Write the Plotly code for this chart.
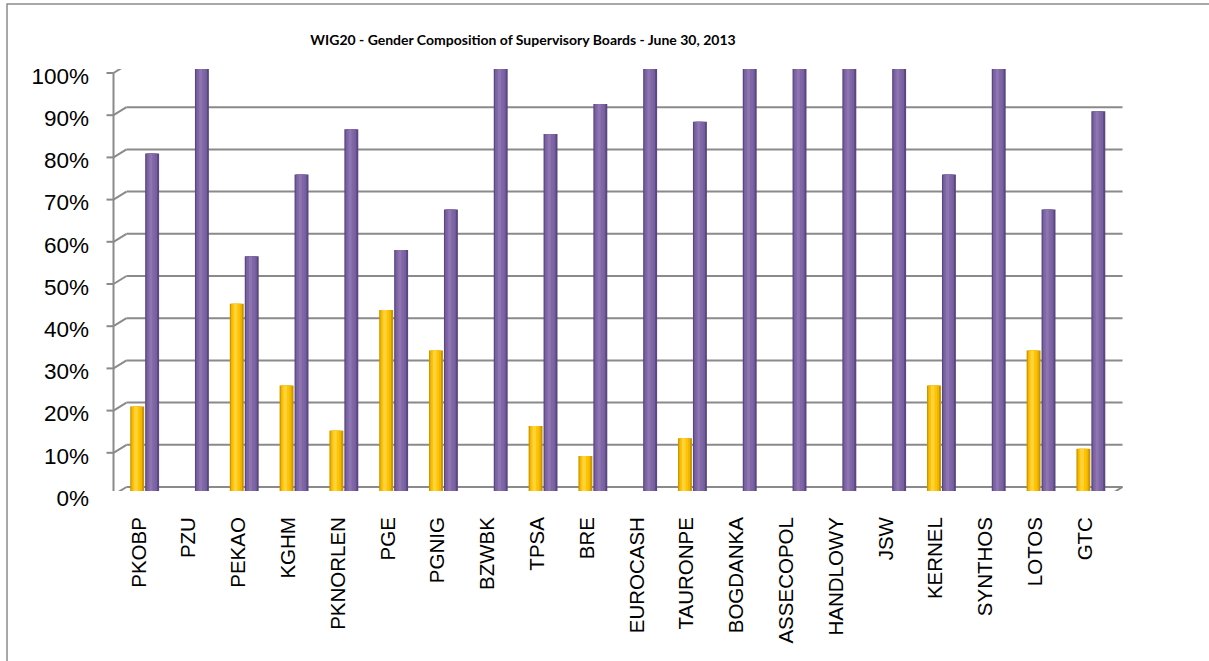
import plotly.graph_objects as go

companies = ["PKOBP", "PZU", "PEKAO", "KGHM", "PKNORLEN", "PGE", "PGNIG", "BZWBK",
             "TPSA", "BRE", "EUROCASH", "TAURONPE", "BOGDANKA", "ASSECOPOL",
             "HANDLOWY", "JSW", "KERNEL", "SYNTHOS", "LOTOS", "GTC"]
women_pct = [20.0, 0.0, 44.4, 25.0, 14.3, 42.9, 33.3, 0.0, 15.4, 8.3,
             0.0, 12.5, 0.0, 0.0, 0.0, 0.0, 25.0, 0.0, 33.3, 10.0]
men_pct = [80.0, 100.0, 55.6, 75.0, 85.7, 57.1, 66.7, 100.0, 84.6, 91.7,
           100.0, 87.5, 100.0, 100.0, 100.0, 100.0, 75.0, 100.0, 66.7, 90.0]
y_ticks = list(range(0, 101, 10))
y_tick_labels = [f"{v}%" for v in y_ticks]
title_text = "WIG20 - Gender Composition of Supervisory Boards - June 30, 2013"

W, H = 1209, 661
L, R, T, B = 120, 93, 69, 170
PW = W - L - R
PH = H - T - B
DX, DY = 6.5, 4  # half depth offset in pixels

fig = go.Figure()

def cyl(values, base_off, layers, name):
    for dx, w, col in layers:
        fig.add_trace(go.Bar(
            x=companies, y=values, name=name, showlegend=False,
            offset=base_off + dx, width=w,
            marker=dict(color=col, line=dict(width=0)),
            hoverinfo="x+y",
        ))

cyl(women_pct, -0.295,
    [(0.0, 0.28, "#C99700"), (0.025, 0.215, "#F2B600"), (0.05, 0.15, "#FFC400"), (0.08, 0.07, "#FFD33D")],
    "Women")
cyl(men_pct, 0.005,
    [(0.0, 0.28, "#5B4780"), (0.025, 0.215, "#7560A0"), (0.05, 0.15, "#8166A6"), (0.085, 0.06, "#8D75B1")],
    "Men")

grid_col = "#8A8A8A"
shapes = []
for v in y_ticks:
    shapes.append(dict(type="line", xref="paper", xsizemode="pixel", xanchor=0,
                       x0=DX, x1=PW + DX, yref="y", ysizemode="pixel", yanchor=v,
                       y0=DY, y1=DY, line=dict(color=grid_col, width=2), layer="below"))
    shapes.append(dict(type="line", xref="paper", xsizemode="pixel", xanchor=0,
                       x0=-DX, x1=DX, yref="y", ysizemode="pixel", yanchor=v,
                       y0=-DY, y1=DY, line=dict(color=grid_col, width=2), layer="below"))
    shapes.append(dict(type="line", xref="paper", xsizemode="pixel", xanchor=0,
                       x0=-DX, x1=-DX - 7, yref="y", ysizemode="pixel", yanchor=v,
                       y0=-DY, y1=-DY, line=dict(color=grid_col, width=2), layer="below"))
shapes.append(dict(type="line", xref="paper", xsizemode="pixel", xanchor=0,
                   x0=-DX, x1=-DX, yref="y", ysizemode="pixel", yanchor=0,
                   y0=-DY, y1=PH - DY, line=dict(color=grid_col, width=2), layer="below"))
shapes.append(dict(type="line", xref="paper", xsizemode="pixel", xanchor=0,
                   x0=-DX, x1=PW - DX, yref="y", ysizemode="pixel", yanchor=0,
                   y0=-DY, y1=-DY, line=dict(color=grid_col, width=2), layer="below"))
shapes.append(dict(type="line", xref="paper", xsizemode="pixel", xanchor=0,
                   x0=PW - DX, x1=PW + DX, yref="y", ysizemode="pixel", yanchor=0,
                   y0=-DY, y1=DY, line=dict(color=grid_col, width=2), layer="below"))
for k in range(len(companies) + 1):
    shapes.append(dict(type="line", xref="x", xsizemode="pixel", xanchor=k - 0.5,
                       x0=-DX, x1=-DX, yref="y", ysizemode="pixel", yanchor=0,
                       y0=-DY, y1=-DY - 8, line=dict(color=grid_col, width=2), layer="below"))
shapes.append(dict(type="rect", xref="paper", yref="paper",
                   x0=(7 - L) / PW, x1=(W + 30 - L) / PW,
                   y0=(H - B - (H + 30)) / PH, y1=(H - B - 4) / PH,
                   line=dict(color="#8C8C8C", width=1.5), fillcolor="rgba(0,0,0,0)", layer="below"))

fig.update_layout(
    width=W, height=H,
    margin=dict(l=L, r=R, t=T, b=B, pad=0),
    paper_bgcolor="white", plot_bgcolor="white",
    barmode="overlay",
    shapes=shapes,
    title=dict(text=title_text, x=523 / W, xanchor="center", y=1 - 40 / H, yanchor="middle",
               font=dict(family="Lato", size=14, color="#000000", weight="bold")),
    xaxis=dict(type="category", range=[-0.5, len(companies) - 0.5], showgrid=False,
               zeroline=False, showline=False, ticks="", tickangle=-90,
               ticklabelshift=-6, ticklabelstandoff=21,
               tickfont=dict(family="Liberation Sans", size=20.5, color="#000000")),
    yaxis=dict(range=[0, 100], tickmode="array", tickvals=y_ticks, ticktext=y_tick_labels,
               showgrid=False, zeroline=False, showline=False, ticks="",
               ticklabelshift=7, ticklabelstandoff=30,
               tickfont=dict(family="Liberation Sans", size=22.5, color="#000000")),
    showlegend=False,
)

fig.write_html("out.html")
